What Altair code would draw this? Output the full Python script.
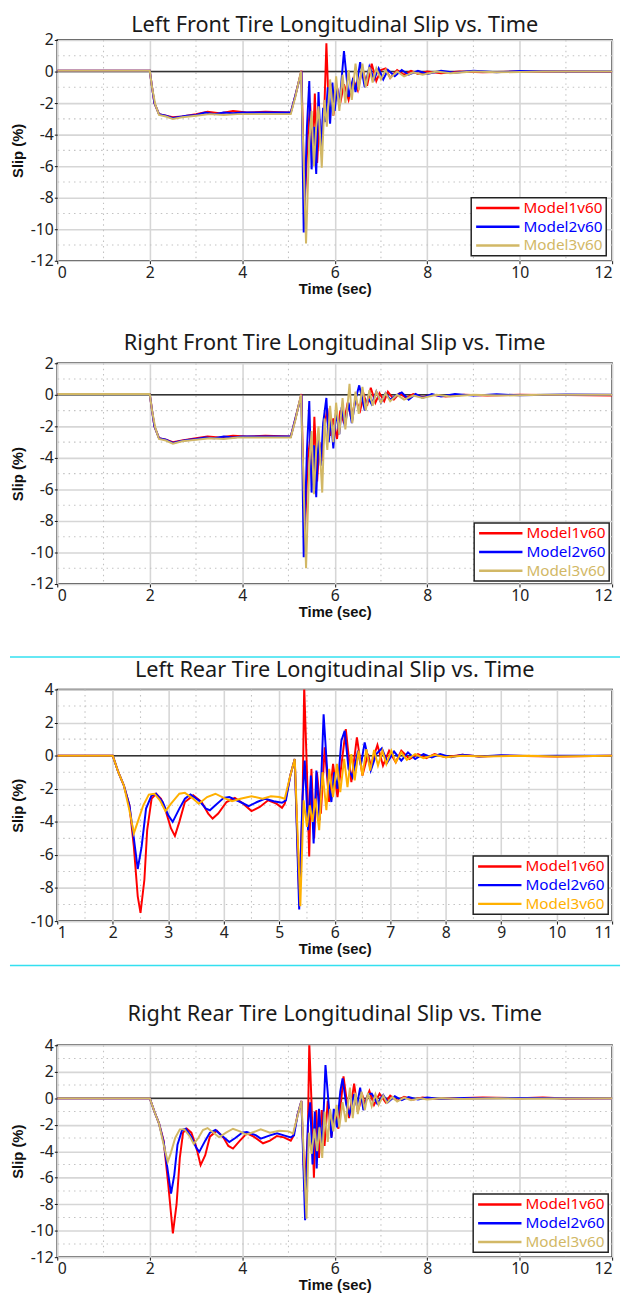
import altair as alt
import pandas as pd

MODELS = ["Model1v60", "Model2v60", "Model3v60"]
TITLES = [
    "Left Front Tire Longitudinal Slip vs. Time",
    "Right Front Tire Longitudinal Slip vs. Time",
    "Left Rear Tire Longitudinal Slip vs. Time",
    "Right Rear Tire Longitudinal Slip vs. Time",
]
RED, BLUE, GOLD, ORANGE = "#ff0000", "#0000ff", "#d2b866", "#ffb000"

# ---------------- Left Front ----------------
LF_M1 = [(0, 0.05), (2.0, 0.05), (2.05, -1.0), (2.1, -2.0), (2.2, -2.7), (2.35, -2.8), (2.5, -2.9), (2.7, -2.85),
         (3.0, -2.7), (3.25, -2.55), (3.5, -2.65), (3.8, -2.5), (4.1, -2.6), (4.5, -2.55), (5.05, -2.6), (5.15, -1.5),
         (5.28, 0.05), (5.35, -8.5), (5.42, -4.0), (5.47, -2.0), (5.52, -5.5), (5.57, -1.4), (5.62, -5.8), (5.67, -3.0),
         (5.72, -4.5), (5.78, -2.0), (5.82, 1.8), (5.86, -1.5), (5.92, -0.8), (5.97, -2.8), (6.05, -1.0), (6.12, -2.0),
         (6.2, -0.8), (6.3, -1.8), (6.4, -0.5), (6.5, -1.2), (6.6, 0.2), (6.7, -0.9), (6.8, 0.5), (6.9, -0.6), (7.0, 0.1),
         (7.1, 0.2), (7.2, -0.4), (7.35, 0.1), (7.5, -0.2), (7.65, 0.05), (7.8, -0.15), (8.0, 0.0), (8.3, -0.1),
         (8.7, 0.0), (9.2, -0.05), (10.0, 0.0), (11.0, 0.0), (12.0, -0.02)]
LF_M2 = [(0, 0.05), (2.0, 0.05), (2.05, -1.0), (2.1, -2.0), (2.2, -2.7), (2.35, -2.8), (2.5, -2.95), (2.6, -2.9),
         (2.8, -2.8), (3.0, -2.75), (3.2, -2.6), (3.4, -2.7), (3.6, -2.6), (3.8, -2.65), (4.0, -2.6), (4.5, -2.6),
         (5.05, -2.6), (5.15, -1.5), (5.28, 0.0), (5.33, -10.2), (5.4, -3.5), (5.45, -0.6), (5.5, -6.2), (5.55, -3.5),
         (5.6, -6.5), (5.65, -1.3), (5.7, -5.0), (5.75, -2.3), (5.8, -3.2), (5.85, -1.0), (5.9, -3.3), (5.95, -0.7),
         (6.0, -2.5), (6.05, -1.0), (6.1, -2.2), (6.2, 1.3), (6.3, -1.6), (6.4, -0.4), (6.45, -1.3), (6.55, 0.6),
         (6.65, -1.0), (6.75, 0.3), (6.85, -0.5), (6.95, 0.2), (7.05, -0.5), (7.15, 0.1), (7.3, -0.3), (7.45, 0.1),
         (7.6, -0.2), (7.8, 0.05), (8.0, -0.15), (8.3, 0.05), (8.6, -0.08), (9.0, 0.05), (9.5, -0.05), (10.0, 0.03),
         (11.0, 0.0), (12.0, 0.0)]
LF_M3 = [(0, 0.05), (2.0, 0.05), (2.05, -1.0), (2.12, -2.1), (2.2, -2.75), (2.35, -2.85), (2.5, -3.0), (2.7, -2.9),
         (3.0, -2.8), (3.3, -2.7), (3.6, -2.75), (3.9, -2.7), (4.3, -2.7), (5.05, -2.7), (5.15, -1.6), (5.27, 0.0),
         (5.38, -10.9), (5.45, -4.5), (5.5, -2.5), (5.55, -6.0), (5.6, -3.5), (5.65, -2.2), (5.72, -6.1), (5.78, -1.8),
         (5.83, -3.5), (5.9, -0.5), (5.97, -2.8), (6.03, -0.3), (6.1, -2.5), (6.17, -0.2), (6.23, -2.0), (6.3, 0.1),
         (6.37, -1.8), (6.45, 0.5), (6.52, -1.2), (6.6, 0.5), (6.67, -1.0), (6.75, 0.3), (6.82, -0.7), (6.9, 0.2),
         (7.0, -0.5), (7.1, 0.1), (7.2, -0.4), (7.35, 0.0), (7.5, -0.3), (7.7, -0.05), (7.9, -0.2), (8.2, 0.0),
         (8.5, -0.1), (9.0, 0.0), (9.5, -0.05), (10.5, 0.0), (12.0, 0.0)]

# ---------------- Right Front ----------------
RF_M1 = [(0, 0.05), (2.0, 0.05), (2.05, -1.0), (2.1, -2.0), (2.2, -2.75), (2.35, -2.85), (2.5, -3.0), (2.7, -2.9),
         (3.0, -2.75), (3.25, -2.65), (3.5, -2.7), (3.8, -2.6), (4.1, -2.65), (4.5, -2.6), (5.05, -2.65), (5.15, -1.5),
         (5.28, 0.05), (5.35, -9.0), (5.42, -4.0), (5.48, -2.5), (5.52, -5.0), (5.56, -1.4), (5.62, -5.5), (5.67, -3.0),
         (5.72, -4.2), (5.78, -2.0), (5.84, -0.85), (5.9, -2.6), (5.97, -1.5), (6.05, -2.8), (6.12, -1.0), (6.2, -1.8),
         (6.28, -0.5), (6.36, -1.5), (6.45, -0.3), (6.55, -1.0), (6.63, 0.0), (6.7, -0.7), (6.78, 0.45), (6.88, -0.5),
         (6.97, 0.1), (7.07, -0.4), (7.15, 0.2), (7.28, -0.3), (7.4, 0.1), (7.55, -0.2), (7.7, 0.05), (7.9, -0.15),
         (8.1, 0.0), (8.4, -0.1), (8.8, 0.0), (9.3, -0.05), (10.0, 0.0), (11.0, -0.02), (12.0, -0.05)]
RF_M2 = [(0, 0.05), (2.0, 0.05), (2.05, -1.0), (2.1, -2.0), (2.2, -2.75), (2.35, -2.85), (2.5, -3.05), (2.65, -2.95),
         (2.85, -2.85), (3.0, -2.8), (3.2, -2.7), (3.4, -2.75), (3.6, -2.65), (3.8, -2.7), (4.0, -2.65), (4.5, -2.65),
         (5.05, -2.65), (5.15, -1.5), (5.28, 0.0), (5.33, -10.3), (5.4, -3.5), (5.45, -0.4), (5.5, -6.2), (5.55, -3.2),
         (5.6, -6.5), (5.65, -2.5), (5.7, -4.5), (5.75, -1.8), (5.82, -0.2), (5.87, -3.0), (5.92, -1.5), (5.97, -3.4),
         (6.03, -1.0), (6.1, -2.5), (6.15, -0.8), (6.22, -2.0), (6.3, -0.5), (6.37, -1.8), (6.45, -0.3), (6.53, 0.6),
         (6.6, -0.3), (6.65, -1.0), (6.72, -0.2), (6.8, -0.6), (6.9, 0.2), (7.0, -0.5), (7.1, 0.1), (7.2, -0.3),
         (7.35, 0.0), (7.45, 0.15), (7.6, -0.3), (7.75, 0.05), (7.9, -0.2), (8.1, 0.05), (8.3, -0.1), (8.6, 0.05),
         (9.0, -0.05), (9.5, 0.03), (10.0, -0.03), (11.0, 0.02), (12.0, 0.0)]
RF_M3 = [(0, 0.05), (2.0, 0.05), (2.05, -1.0), (2.12, -2.1), (2.2, -2.8), (2.35, -2.9), (2.5, -3.1), (2.7, -2.95),
         (3.0, -2.85), (3.3, -2.75), (3.6, -2.8), (3.9, -2.7), (4.3, -2.7), (5.05, -2.7), (5.15, -1.6), (5.27, 0.0),
         (5.38, -11.0), (5.45, -4.5), (5.5, -2.3), (5.55, -6.3), (5.6, -3.5), (5.65, -2.0), (5.73, -6.2), (5.78, -1.5),
         (5.84, -3.5), (5.9, -0.7), (5.97, -3.0), (6.03, -0.5), (6.1, -2.5), (6.17, -0.2), (6.23, -2.2), (6.32, 0.7),
         (6.38, -1.8), (6.45, 0.2), (6.52, -1.2), (6.6, 0.5), (6.67, -1.0), (6.75, 0.3), (6.82, -0.7), (6.9, 0.2),
         (7.0, -0.5), (7.1, 0.1), (7.2, -0.4), (7.35, 0.0), (7.5, -0.3), (7.7, -0.05), (7.9, -0.2), (8.2, 0.0),
         (8.5, -0.1), (9.0, 0.0), (9.5, -0.05), (10.5, 0.0), (12.0, 0.0)]

# ---------------- Left Rear ----------------
LR_M1 = [(1.0, 0.0), (2.0, 0.0), (2.1, -1.0), (2.2, -1.8), (2.3, -3.0), (2.38, -5.5), (2.45, -8.5), (2.5, -9.5),
         (2.57, -7.5), (2.62, -4.5), (2.7, -2.6), (2.78, -2.3), (2.87, -2.6), (2.95, -3.3), (3.05, -4.4), (3.12, -4.85),
         (3.2, -4.0), (3.3, -2.8), (3.45, -2.4), (3.6, -2.8), (3.72, -3.5), (3.8, -3.8), (3.9, -3.5), (4.05, -2.8),
         (4.2, -2.55), (4.35, -2.9), (4.5, -3.35), (4.65, -3.1), (4.8, -2.7), (4.95, -2.9), (5.05, -3.15), (5.1, -2.9),
         (5.2, -1.2), (5.28, -0.2), (5.36, -8.5), (5.42, -3.0), (5.45, 4.2), (5.5, -1.0), (5.54, -6.1), (5.58, -0.8),
         (5.63, -5.0), (5.68, -1.0), (5.75, -3.5), (5.82, 0.5), (5.9, -2.8), (5.97, -0.5), (6.05, -2.5), (6.2, 1.6),
         (6.3, -1.6), (6.4, 1.1), (6.5, -1.2), (6.6, 0.1), (6.65, -0.6), (6.77, 0.65), (6.87, -0.6), (6.98, 0.3),
         (7.1, -0.4), (7.2, 0.3), (7.35, -0.2), (7.5, 0.1), (7.65, -0.15), (7.8, 0.1), (8.0, -0.1), (8.3, 0.05),
         (8.6, -0.05), (9.0, 0.0), (10.0, -0.05), (11.0, 0.0)]
LR_M2 = [(1.0, 0.0), (2.0, 0.0), (2.1, -1.0), (2.2, -1.8), (2.3, -3.0), (2.38, -5.0), (2.45, -6.85), (2.52, -5.5),
         (2.6, -3.2), (2.7, -2.4), (2.78, -2.3), (2.9, -2.8), (3.0, -3.6), (3.08, -4.0), (3.2, -3.2), (3.3, -2.6),
         (3.4, -2.35), (3.55, -2.7), (3.68, -3.2), (3.75, -3.3), (3.85, -3.0), (4.0, -2.55), (4.1, -2.5), (4.3, -2.8),
         (4.45, -3.05), (4.6, -2.8), (4.75, -2.6), (4.9, -2.75), (5.05, -2.85), (5.12, -2.7), (5.2, -1.2), (5.28, -0.2),
         (5.36, -9.3), (5.42, -2.5), (5.46, -0.3), (5.52, -4.5), (5.57, -1.2), (5.62, -5.3), (5.67, -0.9), (5.73, -3.9),
         (5.8, 2.5), (5.87, -1.2), (5.94, -2.8), (5.99, -1.0), (6.05, -2.0), (6.12, 0.9), (6.18, 1.5), (6.25, -0.8),
         (6.32, -1.3), (6.42, 0.3), (6.47, -0.6), (6.54, 0.8), (6.65, -0.9), (6.75, 0.1), (6.85, 0.45), (6.95, -0.4),
         (7.07, 0.25), (7.2, -0.3), (7.32, 0.2), (7.45, -0.2), (7.6, 0.1), (7.75, -0.1), (7.9, 0.1), (8.1, -0.1),
         (8.3, 0.05), (8.6, -0.05), (9.0, 0.02), (9.5, -0.02), (10.0, 0.0), (11.0, 0.0)]
LR_M3 = [(1.0, 0.0), (2.0, 0.0), (2.1, -1.0), (2.2, -1.8), (2.3, -3.3), (2.38, -4.7), (2.45, -4.0), (2.55, -3.0),
         (2.65, -2.35), (2.75, -2.3), (2.85, -2.7), (2.95, -3.35), (3.05, -2.9), (3.2, -2.3), (3.3, -2.25), (3.45, -2.6),
         (3.55, -2.9), (3.7, -2.5), (3.85, -2.3), (4.0, -2.55), (4.15, -2.75), (4.3, -2.6), (4.5, -2.45), (4.7, -2.6),
         (4.85, -2.45), (5.0, -2.5), (5.1, -2.6), (5.2, -1.2), (5.28, -0.2), (5.38, -9.1), (5.44, -2.7), (5.5, -4.3),
         (5.55, -3.0), (5.6, -4.0), (5.65, -2.6), (5.72, -4.5), (5.78, -1.0), (5.85, -3.3), (5.9, -0.8), (5.97, -2.5),
         (6.04, -0.5), (6.1, -2.2), (6.17, -0.2), (6.23, -1.9), (6.3, 0.1), (6.36, -1.5), (6.43, 0.3), (6.5, -1.2),
         (6.57, 0.4), (6.64, -0.9), (6.71, 0.35), (6.78, -0.6), (6.86, 0.3), (6.93, -0.5), (7.02, 0.3), (7.1, -0.4),
         (7.2, 0.2), (7.3, -0.25), (7.45, 0.1), (7.6, -0.15), (7.8, 0.05), (8.0, -0.1), (8.3, 0.0), (8.7, -0.05),
         (9.5, 0.0), (10.0, -0.05), (11.0, 0.0)]

# ---------------- Right Rear ----------------
RR_M1 = [(0, 0.0), (2.0, 0.0), (2.1, -1.0), (2.2, -1.9), (2.3, -3.2), (2.4, -6.5), (2.5, -10.2), (2.58, -8.0),
         (2.65, -4.5), (2.72, -2.6), (2.8, -2.3), (2.9, -2.6), (3.0, -3.6), (3.1, -5.05), (3.2, -4.3), (3.3, -2.9),
         (3.45, -2.45), (3.6, -3.0), (3.7, -3.6), (3.8, -3.8), (3.95, -3.2), (4.1, -2.65), (4.25, -2.9), (4.45, -3.4),
         (4.6, -3.2), (4.75, -2.85), (4.9, -2.95), (5.05, -3.2), (5.1, -2.9), (5.2, -1.2), (5.28, -0.2), (5.35, -7.0),
         (5.42, -2.5), (5.45, 4.2), (5.5, -0.5), (5.55, -6.0), (5.6, -0.9), (5.66, -4.5), (5.72, -0.9), (5.78, -3.6),
         (5.85, -0.2), (5.93, -2.9), (6.0, -1.0), (6.08, -2.3), (6.19, 1.65), (6.31, -1.5), (6.42, 1.1), (6.5, -1.0),
         (6.6, 0.2), (6.65, -0.4), (6.75, 0.55), (6.85, -0.5), (6.97, 0.35), (7.1, -0.3), (7.2, 0.2), (7.35, -0.2),
         (7.5, 0.1), (7.7, -0.1), (7.9, 0.05), (8.2, -0.05), (8.6, 0.0), (9.2, 0.05), (10.0, 0.0), (10.5, 0.05),
         (11.0, -0.02), (12.0, 0.0)]
RR_M2 = [(0, 0.0), (2.0, 0.0), (2.1, -1.0), (2.2, -1.9), (2.3, -3.3), (2.37, -5.0), (2.46, -7.2), (2.53, -5.8),
         (2.6, -3.5), (2.7, -2.4), (2.78, -2.3), (2.9, -2.9), (3.0, -3.7), (3.07, -4.05), (3.2, -3.2), (3.3, -2.6),
         (3.42, -2.4), (3.55, -2.8), (3.72, -3.3), (3.85, -3.0), (4.0, -2.6), (4.1, -2.55), (4.3, -2.8), (4.4, -3.05),
         (4.6, -2.8), (4.75, -2.65), (4.9, -2.8), (5.05, -2.95), (5.12, -2.8), (5.2, -1.2), (5.28, -0.2), (5.36, -9.2),
         (5.42, -2.0), (5.47, -0.3), (5.52, -5.0), (5.57, -1.0), (5.61, -5.3), (5.66, -0.8), (5.73, -3.8), (5.8, 2.5),
         (5.87, -0.5), (5.93, -3.0), (5.98, -0.8), (6.05, -2.2), (6.12, 0.5), (6.17, 1.5), (6.25, -0.5), (6.32, -1.2),
         (6.42, 0.3), (6.48, -0.6), (6.55, 0.8), (6.62, -0.9), (6.72, 0.3), (6.8, 0.35), (6.92, -0.4), (7.05, 0.25),
         (7.15, -0.3), (7.3, 0.15), (7.45, -0.15), (7.6, 0.1), (7.8, -0.1), (8.0, 0.05), (8.3, -0.05), (8.7, 0.02),
         (9.2, 0.0), (10.0, 0.03), (11.0, 0.0), (12.0, 0.0)]
RR_M3 = [(0, 0.0), (2.0, 0.0), (2.1, -1.0), (2.2, -1.9), (2.3, -3.5), (2.39, -4.8), (2.45, -4.2), (2.55, -3.0),
         (2.65, -2.35), (2.75, -2.35), (2.87, -2.9), (2.95, -3.45), (3.05, -3.0), (3.15, -2.4), (3.25, -2.25),
         (3.38, -2.6), (3.5, -2.95), (3.65, -2.6), (3.8, -2.3), (3.95, -2.5), (4.08, -2.75), (4.25, -2.55), (4.4, -2.35),
         (4.6, -2.6), (4.8, -2.45), (5.0, -2.5), (5.1, -2.65), (5.2, -1.3), (5.28, -0.2), (5.39, -9.1), (5.44, -2.6),
         (5.5, -4.2), (5.56, -2.3), (5.62, -4.0), (5.67, -2.2), (5.73, -4.5), (5.78, -1.0), (5.85, -3.3), (5.9, -0.8),
         (5.97, -2.5), (6.04, -0.5), (6.1, -2.2), (6.17, -0.3), (6.24, -1.8), (6.33, 0.8), (6.39, -1.5), (6.45, 0.4),
         (6.5, -1.2), (6.58, 0.5), (6.65, -0.9), (6.72, 0.4), (6.8, -0.6), (6.88, 0.3), (6.95, -0.5), (7.05, 0.2),
         (7.13, -0.35), (7.25, 0.1), (7.35, -0.25), (7.5, 0.05), (7.65, -0.15), (7.85, 0.0), (8.0, -0.1), (8.3, 0.0),
         (8.8, -0.05), (9.5, 0.0), (10.0, -0.03), (12.0, 0.0)]

# tick / grid values
X_MAJOR_FRONT = [0, 2, 4, 6, 8, 10, 12]
X_MINOR_FRONT = [1, 3, 5, 7, 9, 11]
X_MAJOR_LR = [1, 2, 3, 4, 5, 6, 7, 8, 9, 10, 11]
X_MINOR_LR = [1.5, 2.5, 3.5, 4.5, 5.5, 6.5, 7.5, 8.5, 9.5, 10.5]
Y_MAJOR_FRONT = [-12, -10, -8, -6, -4, -2, 0, 2]
Y_MINOR_FRONT = [-11, -9, -7, -5, -3, -1, 1]
Y_MAJOR_LR = [-10, -8, -6, -4, -2, 0, 2, 4]
Y_MINOR_LR = [-9, -7, -5, -3, -1, 1, 3]
Y_MAJOR_RR = [-12, -10, -8, -6, -4, -2, 0, 2, 4]
Y_MINOR_RR = [-11, -9, -7, -5, -3, -1, 1, 3]

MINOR_STYLE = dict(color="#c2c2c2", strokeWidth=1.1, strokeDash=[1.5, 4])
TITLE_FONT = dict(font="Noto Sans", fontSize=22, fontWeight="normal", color="#1a1a1a")


def make_axis(values, title, title_pad):
    return alt.Axis(
        values=values, title=title, labelExpr="'' + datum.value",
        labelOverlap=False, labelBound=False, labelPadding=1, titlePadding=title_pad,
        grid=True, gridColor="#d6d6d6", gridWidth=1.6,
    )


def make_legend(c3, lx, ly):
    """Boxed legend drawn inside the plot area (bottom right)."""
    leg = pd.DataFrame({"model": MODELS, "row": [0, 1, 2]})
    color = alt.Color("model:N", scale=alt.Scale(domain=MODELS, range=[RED, BLUE, c3]), legend=None)
    row_y = alt.Y("row:Q", axis=None, scale=alt.Scale(domain=[0, 2], range=[ly + 10.5, ly + 48.5]))
    box = alt.Chart(leg).transform_filter("datum.row == 0").mark_rect(
        fill="white", stroke="#222222", strokeWidth=1.5
    ).encode(x=alt.value(lx), x2=alt.value(lx + 137), y=alt.value(ly), y2=alt.value(ly + 59))
    sym = alt.Chart(leg).mark_rule(strokeWidth=2.5).encode(
        x=alt.value(lx + 5), x2=alt.value(lx + 49), y=row_y, color=color)
    txt = alt.Chart(leg).mark_text(align="left", baseline="middle", font="Noto Sans", fontSize=15.5).encode(
        x=alt.value(lx + 53), y=row_y, text="model:N", color=color)
    return [box, sym, txt]


def make_panel(title, series, c3, xdom, xmaj, xmin, ydom, ymaj, ymin, w, h,
               lx, ly, title_y, extra=None):
    rows = []
    for name, pts in zip(MODELS, series):
        for t, v in pts:
            rows.append({"t": t, "v": v, "model": name})
    df = pd.DataFrame(rows)
    xs = alt.Scale(domain=xdom, nice=False, zero=False)
    ys = alt.Scale(domain=ydom, nice=False, zero=False)
    xax = make_axis(xmaj, "Time (sec)", 1)
    yax = make_axis(ymaj, "Slip (%)", 5)
    xgrid = alt.Chart(pd.DataFrame({"t": xmin})).mark_rule(**MINOR_STYLE).encode(
        x=alt.X("t:Q", scale=xs, axis=xax))
    ygrid = alt.Chart(pd.DataFrame({"v": ymin})).mark_rule(**MINOR_STYLE).encode(
        y=alt.Y("v:Q", scale=ys, axis=yax))
    zero = alt.Chart(pd.DataFrame({"v": [0]})).mark_rule(color="#333333", strokeWidth=1.5).encode(
        y=alt.Y("v:Q", scale=ys, axis=yax))
    lines = alt.Chart(df).mark_line(strokeWidth=2, clip=True).encode(
        x=alt.X("t:Q", scale=xs, axis=xax),
        y=alt.Y("v:Q", scale=ys, axis=yax),
        color=alt.Color("model:N", scale=alt.Scale(domain=MODELS, range=[RED, BLUE, c3]), legend=None),
    )
    base = alt.layer(xgrid, ygrid, zero, lines)
    ttl = alt.Chart(pd.DataFrame({"title": [title]})).mark_text(
        baseline="middle", align="center", **TITLE_FONT
    ).encode(x=alt.value(w / 2), y=alt.value(title_y), text="title:N")
    layers = [base] + make_legend(c3, lx, ly) + [ttl]
    if extra is not None:
        layers += extra
    return alt.layer(*layers).resolve_scale(y="independent").properties(width=w, height=h)


W = 563
cyan_df = pd.DataFrame({"k": [0, 1]})
cyan_top = alt.Chart(cyan_df).mark_rule(color="#33e0f0", strokeWidth=1.5).transform_filter(
    "datum.k == 0").encode(x=alt.value(-48), x2=alt.value(W + 8), y=alt.value(-33))
cyan_bot = alt.Chart(cyan_df).mark_rule(color="#33e0f0", strokeWidth=1.5).transform_filter(
    "datum.k == 1").encode(x=alt.value(-48), x2=alt.value(W + 8), y=alt.value(280))

p1 = make_panel(TITLES[0], [LF_M1, LF_M2, LF_M3], GOLD, [0, 12], X_MAJOR_FRONT, X_MINOR_FRONT,
                [-12, 2], Y_MAJOR_FRONT, Y_MINOR_FRONT, W, 224, 420, 160, -15)
p2 = make_panel(TITLES[1], [RF_M1, RF_M2, RF_M3], GOLD, [0, 12], X_MAJOR_FRONT, X_MINOR_FRONT,
                [-12, 2], Y_MAJOR_FRONT, Y_MINOR_FRONT, W, 224, 423, 162, -20)
p3 = make_panel(TITLES[2], [LR_M1, LR_M2, LR_M3], ORANGE, [1, 11], X_MAJOR_LR, X_MINOR_LR,
                [-10, 4], Y_MAJOR_LR, Y_MINOR_LR, W, 235, 422, 169, -20, extra=[cyan_top, cyan_bot])
p4 = make_panel(TITLES[3], [RR_M1, RR_M2, RR_M3], GOLD, [0, 12], X_MAJOR_FRONT, X_MINOR_FRONT,
                [-12, 4], Y_MAJOR_RR, Y_MINOR_RR, W, 215, 422, 151, -32)

chart = alt.vconcat(p1, p2, p3, p4, spacing=35).resolve_scale(
    x="independent", y="independent", color="independent"
).properties(padding={"top": -4, "left": 0, "right": 0, "bottom": 0}).configure_view(
    stroke="#111111", strokeWidth=1.5
).configure_axis(
    labelFont="Noto Sans", labelFontSize=16, labelColor="#222222",
    titleFont="Liberation Sans", titleFontSize=15, titleFontWeight="bold", titleColor="#111111",
    domain=False, tickColor="#111111", tickSize=3,
)

chart.save("out.html", embed_options={"renderer": "svg", "actions": False})
